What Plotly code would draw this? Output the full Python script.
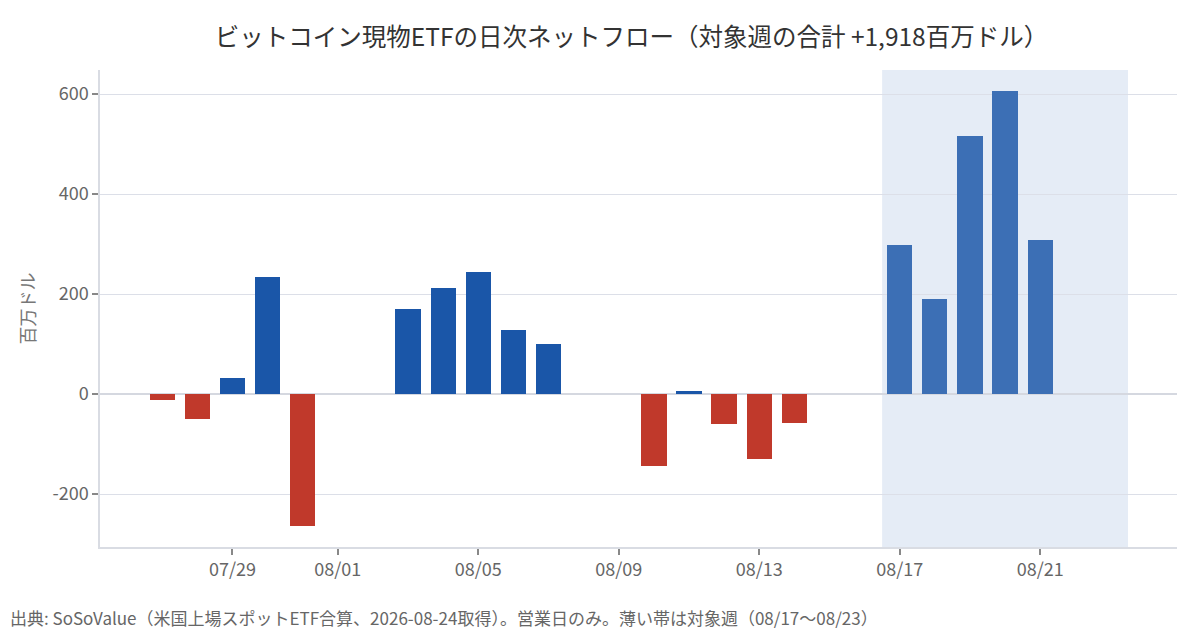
import plotly.graph_objects as go

dates = ["2026-07-27", "2026-07-28", "2026-07-29", "2026-07-30", "2026-07-31",
         "2026-08-03", "2026-08-04", "2026-08-05", "2026-08-06", "2026-08-07",
         "2026-08-10", "2026-08-11", "2026-08-12", "2026-08-13", "2026-08-14",
         "2026-08-17", "2026-08-18", "2026-08-19", "2026-08-20", "2026-08-21"]
flows = [-12, -50, 32, 235, -264,
         170, 212, 244, 128, 100,
         -144, 6, -59, -130, -58,
         298, 190, 516, 606, 308]
week_start = "2026-08-17"
week_end = "2026-08-23"
tick_vals = ["2026-07-29", "2026-08-01", "2026-08-05", "2026-08-09",
             "2026-08-13", "2026-08-17", "2026-08-21"]
tick_text = ["07/29", "08/01", "08/05", "08/09", "08/13", "08/17", "08/21"]
y_tick_vals = [-200, 0, 200, 400, 600]
y_tick_text = ["-200", "0", "200", "400", "600"]

RED = "#c0392b"
BLUE = "#1a56a8"
BLUE_WEEK = "#3c6fb5"

colors = []
for d, v in zip(dates, flows):
    if v < 0:
        colors.append(RED)
    elif week_start <= d <= week_end:
        colors.append(BLUE_WEEK)
    else:
        colors.append(BLUE)

FONT = "Noto Sans CJK JP"
DAY = 86400000

fig = go.Figure()
fig.add_trace(go.Bar(
    x=dates, y=flows, marker=dict(color=colors, line=dict(width=0)),
    width=[0.72 * DAY] * len(dates), showlegend=False,
))

fig.add_shape(type="rect", xref="x", yref="paper",
              x0="2026-08-16 12:00", x1="2026-08-23 12:00", y0=0, y1=1,
              fillcolor="#e5ecf6", line=dict(width=0), layer="below")

fig.update_layout(
    width=1200, height=630,
    margin=dict(l=100, r=23, t=70, b=83),
    paper_bgcolor="white", plot_bgcolor="white",
    font=dict(family=FONT, color="#666666", size=18),
    title=dict(text="ビットコイン現物ETFの日次ネットフロー（対象週の合計 +1,918百万ドル）",
               x=0.4935, xref="paper", xanchor="center", y=1 - 37 / 630, yref="container",
               yanchor="middle",
               font=dict(family=FONT, size=24.5, color="#333333")),
    bargap=0,
)
fig.update_xaxes(
    type="date", range=["2026-07-25 05:30", "2026-08-24 21:30"],
    tickvals=tick_vals, ticktext=tick_text,
    showgrid=False, showline=True, linecolor="#d9dce3", linewidth=1.5,
    ticks="outside", ticklen=6, tickcolor="#888888", tickwidth=1.5,
    tickfont=dict(size=18, color="#666666"), zeroline=False,
)
fig.update_yaxes(
    range=[-306, 648], tickvals=y_tick_vals, ticktext=y_tick_text,
    showgrid=True, gridcolor="#dcdfe8", gridwidth=1,
    zeroline=True, zerolinecolor="#d5d8e0", zerolinewidth=2,
    showline=True, linecolor="#d9dce3", linewidth=1.5,
    ticks="outside", ticklen=6, tickcolor="#888888", tickwidth=1.5,
    tickfont=dict(size=18, color="#666666"),
    title=dict(text="百万ドル", font=dict(size=18, color="#777777"), standoff=12),
)

fig.add_annotation(
    text="出典: SoSoValue（米国上場スポットETF合算、2026-08-24取得）。営業日のみ。薄い帯は対象週（08/17〜08/23）",
    xref="paper", yref="paper", x=-92 / 1077, y=-70 / 477, xanchor="left", yanchor="middle",
    showarrow=False, font=dict(family=FONT, size=17, color="#666666"),
)

fig.write_html("out.html", config={"displayModeBar": False},
               post_script="document.body.style.margin='0';document.body.style.padding='0';")
